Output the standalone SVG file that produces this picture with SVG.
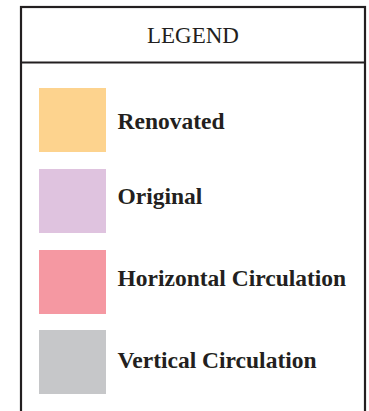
<svg xmlns="http://www.w3.org/2000/svg" width="369" height="411" viewBox="0 0 369 411">
<style>
.frame{fill:#fff;stroke:#231f20;stroke-width:2.2}
.lbl{font-family:"Liberation Serif",serif;font-weight:bold;font-size:23.5px;fill:#231f20}
.title{font-family:"Liberation Serif",serif;font-size:23px;fill:#231f20;text-anchor:middle}
</style>
<rect width="369" height="411" fill="#fff"/>
<g id="frame">
<rect class="frame" x="21" y="7" width="344" height="420"/>
<line x1="21" y1="62.5" x2="365" y2="62.5" stroke="#231f20" stroke-width="2.2"/>
<text class="title" x="193" y="43">LEGEND</text>
</g>
<g id="renovated">
<rect x="39" y="88" width="67" height="64" fill="#fdd38e"/>
<text class="lbl" x="117.5" y="129">Renovated</text>
</g>
<g id="original">
<rect x="39" y="169" width="67" height="64" fill="#dfc3df"/>
<text class="lbl" x="117.5" y="204">Original</text>
</g>
<g id="horizontal">
<rect x="39" y="250" width="67" height="64" fill="#f598a2"/>
<text class="lbl" x="117.5" y="285.5">Horizontal Circulation</text>
</g>
<g id="vertical">
<rect x="39" y="330" width="67" height="64" fill="#c6c7c9"/>
<text class="lbl" x="117.5" y="368">Vertical Circulation</text>
</g>
<g id="connectors"></g>
</svg>
